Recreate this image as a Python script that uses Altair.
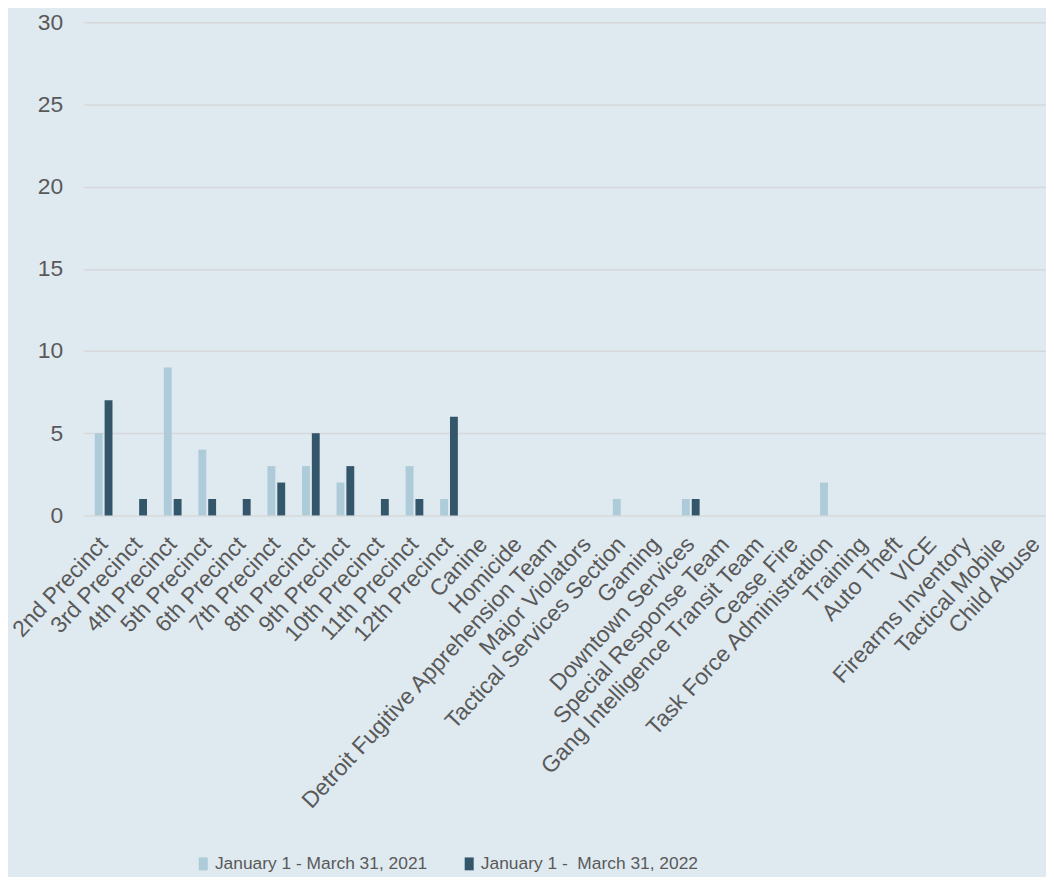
import altair as alt
import pandas as pd

categories = [
    "2nd Precinct", "3rd Precinct", "4th Precinct", "5th Precinct", "6th Precinct",
    "7th Precinct", "8th Precinct", "9th Precinct", "10th Precinct", "11th Precinct",
    "12th Precinct", "Canine", "Homicide", "Detroit Fugitive Apprehension Team",
    "Major Violators", "Tactical Services Section", "Gaming", "Downtown Services",
    "Special Response Team", "Gang Intelligence Transit Team", "Cease Fire",
    "Task Force Administration", "Training", "Auto Theft", "VICE",
    "Firearms Inventory", "Tactical Mobile", "Child Abuse",
]
series_names = ["January 1 - March 31, 2021", "January 1 -\u00a0 March 31, 2022"]
values_2021 = [5, 0, 9, 4, 0, 3, 3, 2, 0, 3, 1, 0, 0, 0, 0, 1, 0, 1, 0, 0, 0, 2, 0, 0, 0, 0, 0, 0]
values_2022 = [7, 1, 1, 1, 1, 2, 5, 3, 1, 1, 6, 0, 0, 0, 0, 0, 0, 1, 0, 0, 0, 0, 0, 0, 0, 0, 0, 0]
y_ticks = [0, 5, 10, 15, 20, 25, 30]
colors = ["#aecbd9", "#33566b"]

rows = []
for name, vals in zip(series_names, [values_2021, values_2022]):
    for c, v in zip(categories, vals):
        rows.append({"category": c, "series": name, "value": v})
df = pd.DataFrame(rows)

font = "Liberation Sans"
text_color = "#595959"

chart = alt.Chart(df).mark_bar().encode(
    x=alt.X(
        "category:N",
        sort=categories,
        scale=alt.Scale(domain=categories, paddingInner=0.43, paddingOuter=0.15, align=1),
        axis=alt.Axis(
            title=None, labelAngle=-47, labelAlign="right", labelBaseline="middle",
            labelPadding=25, labelFontSize=23, labelFont=font, labelColor=text_color,
            ticks=False, domain=False, labelOverlap=False, labelLimit=1000, grid=False,
        ),
    ),
    xOffset=alt.XOffset(
        "series:N", sort=series_names,
        scale=alt.Scale(domain=series_names, paddingInner=0.2, paddingOuter=0.1),
    ),
    y=alt.Y(
        "value:Q",
        scale=alt.Scale(domain=[0, 30], nice=False),
        axis=alt.Axis(
            title=None, values=y_ticks, labelFontSize=23, labelFont=font,
            labelColor=text_color, labelPadding=21, domain=False, ticks=False,
            grid=True, gridColor="#d6d8da", gridWidth=1.5,
        ),
    ),
    color=alt.Color(
        "series:N",
        sort=series_names,
        scale=alt.Scale(domain=series_names, range=colors),
        legend=alt.Legend(
            title=None, orient="none", legendX=112, legendY=839, direction="horizontal",
            symbolType="M-0.7,-1H0.7V1H-0.7Z", symbolSize=169, symbolStrokeWidth=0,
            labelFontSize=17.5, labelFont=font,
            labelColor=text_color, labelOffset=3, columnPadding=33, labelLimit=0, padding=0,
        ),
    ),
).properties(
    width=970,
    height=497,
    autosize=alt.AutoSizeParams(type="none"),
    padding={"left": 76, "top": 11, "right": 0, "bottom": 361},
).configure(
    background="#dfe9f0",
).configure_view(
    strokeWidth=0,
)

chart.save("out.html", embed_options={"renderer": "svg", "actions": False})
